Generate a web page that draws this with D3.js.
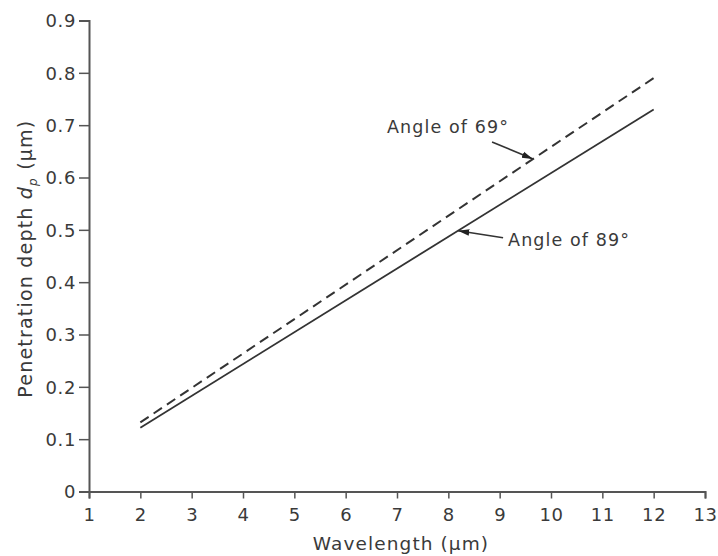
<!DOCTYPE html>
<html>
<head>
<meta charset="utf-8">
<script src="https://cdn.jsdelivr.net/npm/d3@7"></script>
<style>
  html, body { margin: 0; padding: 0; background: #fff; }
  text { font-family: "DejaVu Sans", sans-serif; fill: #3a3a3a; }
</style>
</head>
<body>
<div id="chart"></div>
<script>
// Données
const longueurs = [2, 12];            // µm
const dp69      = [0.132, 0.79];      // angle 69°
const dp89      = [0.122, 0.73];      // angle 89°
const ticksX    = d3.range(1, 14);
const ticksY    = [0, 0.1, 0.2, 0.3, 0.4, 0.5, 0.6, 0.7, 0.8, 0.9];
const notes     = [
  { texte: "Angle of 69°", x: 9.65, serie: "69" },
  { texte: "Angle of 89°", x: 8.19, serie: "89" }
];

const largeur = 718, hauteur = 556;
const marge = { haut: 20.5, droite: 13, bas: 64.5, gauche: 89 };

const svg = d3.select("#chart").append("svg")
    .attr("width", largeur).attr("height", hauteur);

const x = d3.scaleLinear().domain([1, 13]).range([marge.gauche, largeur - marge.droite]);
const y = d3.scaleLinear().domain([0, 0.9]).range([hauteur - marge.bas, marge.haut]);

svg.append("defs").append("marker")
    .attr("id", "fleche")
    .attr("viewBox", "0 0 10 10")
    .attr("refX", 10).attr("refY", 5)
    .attr("markerWidth", 7).attr("markerHeight", 7)
    .attr("markerUnits", "strokeWidth")
    .attr("orient", "auto")
  .append("path").attr("d", "M0,2L10,5L0,8Z").attr("fill", "#222");

// Axes
const axeX = svg.append("g")
    .attr("transform", `translate(0,${y(0)})`)
    .call(d3.axisBottom(x).tickValues(ticksX).tickSize(7).tickPadding(10).tickFormat(d3.format("d")));
const axeY = svg.append("g")
    .attr("transform", `translate(${x(1)},0)`)
    .call(d3.axisLeft(y).tickValues(ticksY).tickSize(10).tickPadding(3)
      .tickFormat(d => d === 0 ? "0" : d3.format(".1f")(d)));

[axeX, axeY].forEach(a => {
  a.select(".domain").attr("stroke", "#555").attr("stroke-width", 2);
  a.selectAll(".tick line").attr("stroke", "#555").attr("stroke-width", 1.5);
  a.selectAll(".tick text")
    .attr("fill", "#3a3a3a")
    .style("font-size", "18px")
    .style("letter-spacing", "0.6px");
});
axeY.selectAll(".tick text").attr("dy", "0.36em");

// Titres d'axes
svg.append("text")
    .attr("x", x(7) + 4).attr("y", 550)
    .attr("text-anchor", "middle")
    .style("font-size", "18.5px").style("letter-spacing", "1.1px")
    .text("Wavelength (μm)");

const titreY = svg.append("text")
    .attr("transform", `translate(32,${y(0.445)}) rotate(-90)`)
    .attr("text-anchor", "middle")
    .style("font-size", "19px").style("letter-spacing", "1.2px");
titreY.append("tspan").text("Penetration depth ");
titreY.append("tspan").style("font-style", "italic").text("d");
titreY.append("tspan").attr("dy", 5).style("font-size", "12px").style("font-style", "italic").text("p");
titreY.append("tspan").attr("dy", -5).text(" (μm)");

// Courbes
const ligne = d3.line().x(d => x(d[0])).y(d => y(d[1]));
svg.append("path")
    .datum(d3.zip(longueurs, dp69))
    .attr("d", ligne)
    .attr("fill", "none").attr("stroke", "#333").attr("stroke-width", 2)
    .attr("stroke-dasharray", "10,6");
svg.append("path")
    .datum(d3.zip(longueurs, dp89))
    .attr("d", ligne)
    .attr("fill", "none").attr("stroke", "#333").attr("stroke-width", 1.8);

// Annotations
const pente = { "69": dp69[1] / longueurs[1], "89": dp89[1] / longueurs[1] };
const decal = {
  "69": { dx: -41, dy: -17, tx: -146, ty: -26 },
  "89": { dx: 45, dy: 7, tx: 50, ty: 15 }
};
notes.forEach(n => {
  const px = x(n.x), py = y(pente[n.serie] * n.x), o = decal[n.serie];
  svg.append("line")
      .attr("x1", px + o.dx).attr("y1", py + o.dy)
      .attr("x2", px).attr("y2", py)
      .attr("stroke", "#333").attr("stroke-width", 1.6)
      .attr("marker-end", "url(#fleche)");
  svg.append("text")
      .attr("x", px + o.tx).attr("y", py + o.ty)
      .style("font-size", "17.5px").style("letter-spacing", "1.1px")
      .text(n.texte);
});
</script>
</body>
</html>
